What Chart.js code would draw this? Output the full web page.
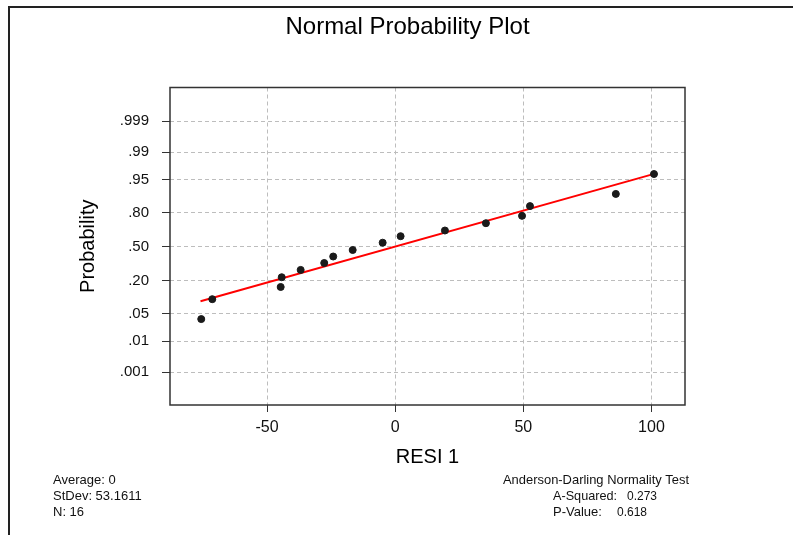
<!DOCTYPE html>
<html>
<head>
<meta charset="utf-8">
<title>Normal Probability Plot</title>
<script src="https://cdn.jsdelivr.net/npm/chart.js@4"></script>
<style>
  html, body { margin: 0; padding: 0; background: #fff; }
  #probPlot { display: block; }
</style>
</head>
<body>
<canvas id="probPlot" width="793" height="535"></canvas>
<script>
// residuals (RESI1) and their normal scores
const residuals = [-75.7, -71.4, -44.7, -44.3, -36.9, -27.7, -24.2, -16.6, -4.9, 2.1, 19.4, 35.4, 49.5, 52.6, 86.1, 101.0];
const normalScores = [-1.78, -1.29, -0.99, -0.75, -0.57, -0.40, -0.24, -0.08, 0.10, 0.26, 0.40, 0.58, 0.76, 1.00, 1.30, 1.79];

// fitted line end points
const fitX = [-76, 101.4];
const fitScores = [-1.34, 1.80];

// probability axis: labels and the normal score where each sits
const probLabels = [".001", ".01", ".05", ".20", ".50", ".80", ".95", ".99", ".999"];
const probScores = [-3.09, -2.326, -1.645, -0.842, 0, 0.842, 1.645, 2.326, 3.09];

const xTicks = [-50, 0, 50, 100];

const chartTitle = "Normal Probability Plot";
const statsLeft = ["Average: 0", "StDev: 53.1611", "N: 16"];
const adTitle = "Anderson-Darling Normality Test";
const adRows = [["A-Squared:", "0.273"], ["P-Value:", "0.618"]];

const FONT = "'Liberation Sans', Arial, sans-serif";

const extras = {
  id: "extras",
  beforeDraw(chart) {
    const ctx = chart.ctx;
    ctx.save();
    ctx.fillStyle = "#fff";
    ctx.fillRect(0, 0, chart.width, chart.height);
    // outer frame (only left and top edges show)
    ctx.strokeStyle = "#222";
    ctx.lineWidth = 2;
    ctx.beginPath();
    ctx.moveTo(9, chart.height);
    ctx.lineTo(9, 7);
    ctx.lineTo(chart.width, 7);
    ctx.stroke();
    ctx.restore();
  },
  afterDraw(chart) {
    const ctx = chart.ctx;
    const a = chart.chartArea;
    ctx.save();
    ctx.strokeStyle = "#333";
    ctx.lineWidth = 1.5;
    ctx.strokeRect(a.left, a.top, a.right - a.left, a.bottom - a.top);

    // title sits a bit right of the plot's own centre, as in the original
    ctx.fillStyle = "#000";
    ctx.font = "24px " + FONT;
    ctx.textBaseline = "middle";
    ctx.textAlign = "center";
    ctx.fillText(chartTitle, 407.5, 27, 254);

    ctx.fillStyle = "#111";
    ctx.font = "13px " + FONT;
    ctx.textAlign = "left";
    statsLeft.forEach((t, i) => ctx.fillText(t, 53, 480 + i * 16, 90));

    ctx.textAlign = "center";
    ctx.fillText(adTitle, 596, 480, 186);
    ctx.textAlign = "left";
    ctx.fillText(adRows[0][0], 553, 496, 64);
    ctx.fillText(adRows[0][1], 627, 496, 30);
    ctx.fillText(adRows[1][0], 553, 512, 50);
    ctx.fillText(adRows[1][1], 617, 512, 30);
    ctx.restore();
  }
};

new Chart(document.getElementById("probPlot"), {
  type: "scatter",
  data: {
    datasets: [
      {
        label: "RESI1",
        data: residuals.map((x, i) => ({ x: x, y: normalScores[i] })),
        backgroundColor: "#1a1a1a",
        borderColor: "#1a1a1a",
        pointRadius: 3.5,
        pointHoverRadius: 3.5,
      },
      {
        label: "Fit",
        data: fitX.map((x, i) => ({ x: x, y: fitScores[i] })),
        showLine: true,
        borderColor: "#ff0000",
        borderWidth: 2,
        pointRadius: 0,
        fill: false,
      },
    ],
  },
  options: {
    responsive: false,
    animation: false,
    layout: {
      padding: { left: 20, right: 108, top: 87.5, bottom: 60 },
    },
    plugins: {
      legend: { display: false },
      tooltip: { enabled: false },
      title: { display: false },
    },
    scales: {
      x: {
        type: "linear",
        min: -87.9,
        max: 113.1,
        afterBuildTicks: (scale) => {
          scale.ticks = xTicks.map((v) => ({ value: v }));
        },
        afterFit: (scale) => {
          scale.height = 70;
        },
        grid: {
          color: "#bdbdbd",
          tickColor: "#333",
          tickLength: 7,
        },
        border: { display: false, dash: [4, 3] },
        ticks: {
          color: "#111",
          padding: 6,
          font: { family: FONT, size: 16 },
        },
        title: {
          display: true,
          text: "RESI 1",
          color: "#000",
          font: { family: FONT, size: 20 },
          padding: { top: 0, bottom: 6 },
        },
      },
      y: {
        type: "linear",
        min: -3.894,
        max: 3.919,
        afterBuildTicks: (scale) => {
          scale.ticks = probScores.map((v) => ({ value: v }));
        },
        afterFit: (scale) => {
          scale.width = 150;
        },
        grid: {
          color: "#bdbdbd",
          tickColor: "#333",
          tickLength: 8,
        },
        border: { display: false, dash: [4, 3] },
        ticks: {
          color: "#111",
          padding: 13,
          font: { family: FONT, size: 15 },
          callback: (value) => {
            const i = probScores.indexOf(value);
            return i >= 0 ? probLabels[i] : "";
          },
        },
        title: {
          display: true,
          text: "Probability",
          color: "#000",
          font: { family: FONT, size: 20 },
          padding: { top: 56, bottom: 0 },
        },
      },
    },
  },
  plugins: [extras],
});
</script>
</body>
</html>
